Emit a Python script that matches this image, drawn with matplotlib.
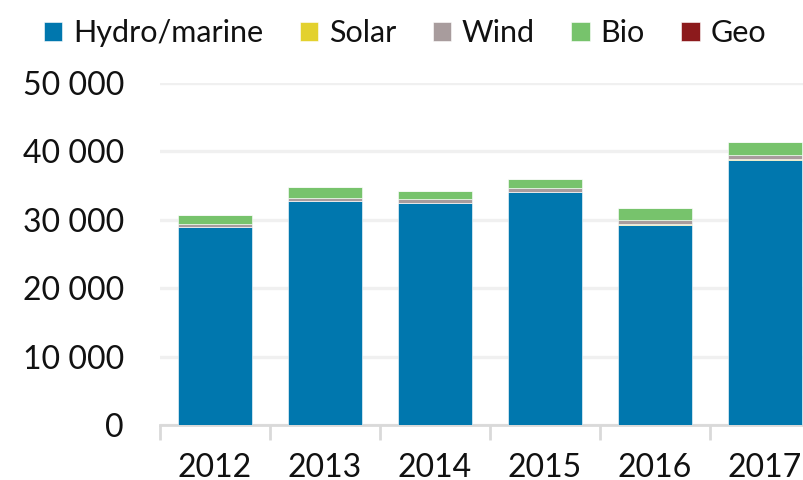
import matplotlib
matplotlib.use('Agg')
import matplotlib.pyplot as plt
import numpy as np

years = ['2012', '2013', '2014', '2015', '2016', '2017']
hydro = [28900, 32750, 32450, 34000, 29300, 38750]
solar = [40, 40, 50, 50, 60, 70]
wind = [430, 440, 550, 650, 600, 680]
bio = [1370, 1560, 1200, 1270, 1800, 1900]
geo = [10, 10, 10, 10, 10, 10]

series = [('Hydro/marine', hydro, '#0077ae'),
          ('Solar', solar, '#e3d12e'),
          ('Wind', wind, '#a89c9d'),
          ('Bio', bio, '#77c36c'),
          ('Geo', geo, '#8c1a1c')]

plt.rcParams['font.family'] = ['Lato', 'DejaVu Sans']

fig = plt.figure(figsize=(8.04, 4.80), dpi=100)
ax = fig.add_axes([160 / 804, 55 / 480, 660 / 804, 342 / 480])

x = np.arange(len(years))
bottom = np.zeros(len(years))
for name, vals, col in series:
    ax.bar(x, vals, width=0.665, bottom=bottom, color=col, label=name,
           edgecolor='white', linewidth=0.4, zorder=3)
    bottom += np.array(vals)

ax.set_xlim(-0.5, 5.5)
ax.set_ylim(0, 50000)
ax.set_yticks(range(0, 50001, 10000))
ax.set_yticklabels([f'{v:,}'.replace(',', ' ') for v in range(0, 50001, 10000)])
ax.yaxis.grid(True, color='#f0f0f0', linewidth=2.4, zorder=0)
ax.tick_params(axis='y', length=0, pad=26, labelsize=23, labelcolor='#111111')

# tick marks at category boundaries, labels centered
ax.set_xticks(np.arange(-0.5, 6, 1))
ax.set_xticklabels([])
ax.set_xticks(x, minor=True)
ax.set_xticklabels(years, minor=True)
ax.tick_params(axis='x', which='major', length=11, width=2, color='#d9d9d9')
ax.tick_params(axis='x', which='minor', length=0, pad=20, labelsize=23, labelcolor='#111111')

for s in ['top', 'right', 'left']:
    ax.spines[s].set_visible(False)
ax.spines['bottom'].set_color('#d9d9d9')
ax.spines['bottom'].set_linewidth(2)

fig.legend(loc='center', bbox_to_anchor=(405 / 804, 1 - 33 / 480), ncol=5,
           frameon=False, fontsize=22, handlelength=0.6, handleheight=0.6,
           handletextpad=0.35, columnspacing=1.2, borderaxespad=0,
           labelcolor='#111111')

fig.savefig('out.png', dpi=100)
